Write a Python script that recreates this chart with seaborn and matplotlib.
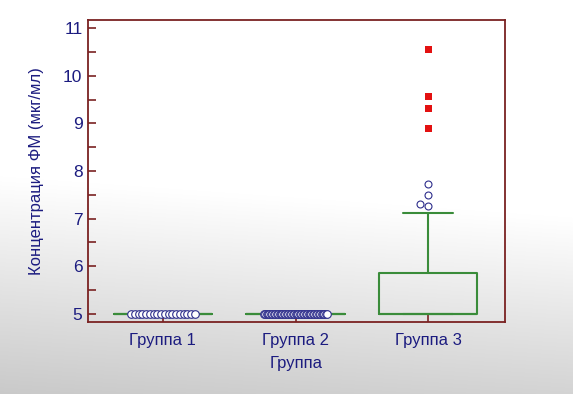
import numpy as np
import pandas as pd
import matplotlib
matplotlib.use("Agg")
import matplotlib.pyplot as plt
from matplotlib.ticker import MultipleLocator
import seaborn as sns

# ---------------- data ----------------
categories = ["Группа 1", "Группа 2", "Группа 3"]
group1_points = [5.0, 5.0, 5.0, 5.0, 5.0, 5.0, 5.0, 5.0, 5.0, 5.0,
                 5.0, 5.0, 5.0, 5.0, 5.0, 5.0, 5.0, 5.0]
group2_points = [5.0, 5.0, 5.0, 5.0, 5.0, 5.0, 5.0, 5.0, 5.0, 5.0,
                 5.0, 5.0, 5.0, 5.0, 5.0, 5.0, 5.0, 5.0, 5.0, 5.0,
                 5.0, 5.0, 5.0, 5.0, 5.0, 5.0, 5.0, 5.0, 5.0, 5.0,
                 5.0, 5.0, 5.0, 5.0, 5.0, 5.0, 5.0, 5.0, 5.0, 5.0,
                 5.0, 5.0, 5.0, 5.0, 5.0]
box_q1 = [5.0, 5.0, 5.0]
box_median = [5.0, 5.0, 5.0]
box_q3 = [5.0, 5.0, 5.85]
whisker_low = [5.0, 5.0, 5.0]
whisker_high = [5.0, 5.0, 7.12]
group3_outside = [7.72, 7.50, 7.31, 7.26]
group3_far_out = [10.56, 9.57, 9.32, 8.90]
y_ticks = [5, 6, 7, 8, 9, 10, 11]
x_label = "Группа"
y_label = "Концентрация ФМ (мкг/мл)"

# ---------------- style ----------------
sns.set_theme(style="ticks")
plt.rcParams["font.family"] = ["Liberation Sans", "DejaVu Sans"]
navy = "#1c1c80"
maroon = "#7a2222"
green = "#3a8c3a"
circle_edge = "#2e2e8c"
red = "#e31111"

fig = plt.figure(figsize=(5.73, 3.94), dpi=100)

# background gradient (white top fading to light grey)
bg = fig.add_axes([0, 0, 1, 1], zorder=-10)
H, W = 394, 573
yy = np.linspace(0, 1, H)[:, None]
xx = np.linspace(0, 1, W)[None, :]
v = np.where(yy < 0.45, 1.0, 1.0 - (yy - 0.45) / 0.55 * 0.21)
v = v + (xx * 0.04) * (yy > 0.45)
v = np.clip(v, 0, 1)
img = np.dstack([v, v, v])
bg.imshow(img, aspect="auto", extent=[0, 1, 0, 1])
bg.axis("off")

ax = fig.add_axes([88 / 573, 1 - 322 / 394, (505 - 88) / 573, (322 - 20) / 394])
ax.set_facecolor("none")

# boxes
stats = []
for i in range(3):
    stats.append(dict(med=box_median[i], q1=box_q1[i], q3=box_q3[i],
                      whislo=whisker_low[i], whishi=whisker_high[i], fliers=[]))
lp = dict(color=green, linewidth=1.5)
ax.bxp(stats, positions=[0, 1, 2], widths=0.74, capwidths=0.375,
       boxprops=lp, whiskerprops=lp, capprops=lp, medianprops=lp,
       showfliers=False, manage_ticks=False)

# spread points for groups 1 and 2
rows = []
for gi, pts in enumerate([group1_points, group2_points]):
    offs = np.linspace(-0.24, 0.24, len(pts))
    for o, val in zip(offs, pts):
        rows.append({"x": gi + o, "value": val})
df12 = pd.DataFrame(rows)
sns.scatterplot(data=df12, x="x", y="value", ax=ax, marker="o", color="white",
                edgecolor=circle_edge, linewidth=0.8, s=30, zorder=3, legend=False)

# group 3 outside values
df3 = pd.DataFrame({"x": [2] * len(group3_outside), "value": group3_outside})
sns.swarmplot(data=df3, x="x", y="value", native_scale=True, ax=ax, color="white",
              edgecolor=circle_edge, linewidth=0.8, size=5.0, zorder=3, legend=False)

df3f = pd.DataFrame({"x": [2] * len(group3_far_out), "value": group3_far_out})
sns.scatterplot(data=df3f, x="x", y="value", ax=ax, marker="s", color=red,
                edgecolor="none", s=26, zorder=3, legend=False)

# axes
ax.set_xlim(-0.565, 2.58)
ax.set_ylim(4.83, 11.17)
ax.set_xticks([0, 1, 2])
ax.set_xticklabels(categories)
ax.set_yticks(y_ticks)
ax.yaxis.set_minor_locator(MultipleLocator(0.5))
for s in ax.spines.values():
    s.set_visible(True)
    s.set_color(maroon)
    s.set_linewidth(1.3)
ax.tick_params(axis="both", which="both", direction="in", color=maroon, width=1.2)
ax.tick_params(axis="y", which="major", length=6, labelsize=12.5, labelcolor=navy, pad=4)
ax.tick_params(axis="y", which="minor", length=6)
ax.tick_params(axis="x", which="major", length=6, labelsize=12, labelcolor=navy, pad=8)
ax.tick_params(axis="x", which="minor", length=0)
ax.set_xlabel(x_label, fontsize=12, color=navy, labelpad=6)
ax.set_ylabel(y_label, fontsize=12, color=navy, labelpad=14)
ax.grid(False)

fig.savefig("out.png", dpi=100)
